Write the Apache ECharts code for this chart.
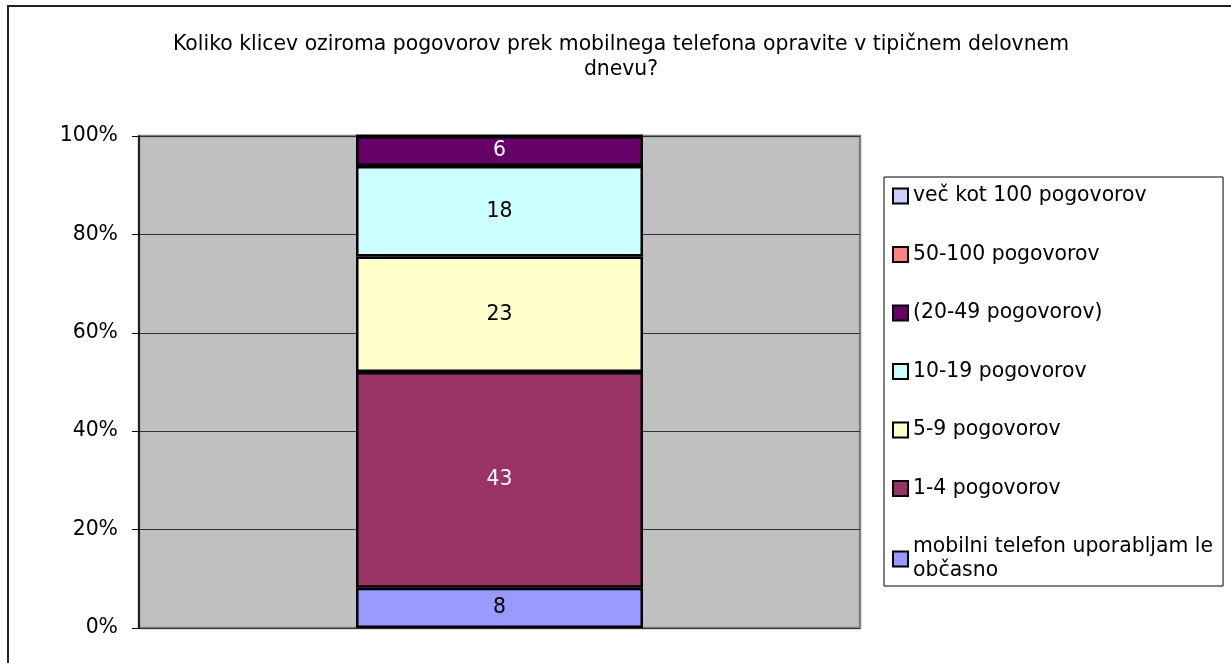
<!DOCTYPE html>
<html>
<head>
<meta charset="utf-8">
<script src="https://cdn.jsdelivr.net/npm/echarts@6/dist/echarts.min.js"></script>
<style>
	html, body { margin: 0; padding: 0; background: #fff; }
	#chart { width: 1231px; height: 663px; }
</style>
</head>
<body>
<div id="chart"></div>
<script>
var titleText = 'Koliko klicev oziroma pogovorov prek mobilnega telefona opravite v tipičnem delovnem\ndnevu?';
var categories = [''];
// od spodaj navzgor
var seriesNames = [
	'mobilni telefon uporabljam le\nobčasno',
	'1-4 pogovorov',
	'5-9 pogovorov',
	'10-19 pogovorov',
	'(20-49 pogovorov)',
	'50-100 pogovorov',
	'več kot 100 pogovorov'
];
var counts = [8, 43, 23, 18, 6, 0, 0];
var yTicks = [0, 20, 40, 60, 80, 100];

var colors = ['#9999FF', '#993366', '#FFFFCC', '#CCFFFF', '#660066', '#FF8080', '#CCCCFF'];
var labelColors = ['#000', '#fff', '#000', '#000', '#fff', '#000', '#000'];
var font = 'DejaVu Sans';
var fs = 20.4;

var dom = document.getElementById('chart');
var myChart = echarts.init(dom);

var total = 0;
for (var i = 0; i < counts.length; i++) total += counts[i];

var series = [];
for (var i = 0; i < seriesNames.length; i++) {
	series.push({
		name: seriesNames[i],
		type: 'bar',
		stack: 'all',
		barWidth: 287,
		data: [counts[i] / total * 100],
		itemStyle: {
			color: colors[i],
			borderColor: '#000',
			borderWidth: 2.5
		},
		label: {
			show: counts[i] > 0,
			position: 'inside',
			color: labelColors[i],
			fontFamily: font,
			fontSize: fs,
			formatter: (function (c) {
				return function () { return String(c); };
			})(counts[i])
		}
	});
}

var legendData = [];
for (var i = seriesNames.length - 1; i >= 0; i--) {
	legendData.push({ name: seriesNames[i], icon: 'rect' });
}

option = {
	animation: false,
	backgroundColor: '#fff',
	title: {
		text: titleText,
		left: 616,
		top: 27,
		textAlign: 'center',
		textStyle: {
			fontFamily: font,
			fontSize: fs,
			fontWeight: 'normal',
			color: '#000',
			lineHeight: 25
		}
	},
	graphic: [{
		type: 'rect',
		shape: { x: 8, y: 6, width: 1300, height: 700 },
		style: { fill: 'none', stroke: '#222', lineWidth: 2 },
		silent: true
	}],
	legend: {
		orient: 'vertical',
		left: 884,
		top: 177,
		data: legendData,
		padding: [7, 10, 3, 8],
		itemGap: 34.5,
		itemWidth: 15,
		itemHeight: 15,
		borderColor: '#000',
		borderWidth: 1,
		selectedMode: false,
		itemStyle: { borderColor: '#000', borderWidth: 2 },
		textStyle: {
			fontFamily: font,
			fontSize: fs,
			color: '#000',
			lineHeight: 24
		}
	},
	grid: {
		left: 139,
		top: 136,
		width: 721,
		height: 492,
		show: true,
		backgroundColor: '#C0C0C0',
		borderColor: '#808080',
		borderWidth: 2.5
	},
	xAxis: {
		type: 'category',
		data: categories,
		axisLine: { show: false },
		axisTick: { show: false },
		axisLabel: { show: false }
	},
	yAxis: {
		type: 'value',
		min: yTicks[0],
		max: yTicks[yTicks.length - 1],
		interval: 20,
		axisLine: { show: true, lineStyle: { color: '#000', width: 1.5 } },
		axisTick: { show: true, length: 7, lineStyle: { color: '#000' } },
		axisLabel: {
			fontFamily: font,
			fontSize: fs,
			color: '#000',
			margin: 21,
			formatter: '{value}%'
		},
		splitLine: { show: true, lineStyle: { color: '#303030', width: 1 } }
	},
	series: series
};

myChart.setOption(option, true);
</script>
</body>
</html>
